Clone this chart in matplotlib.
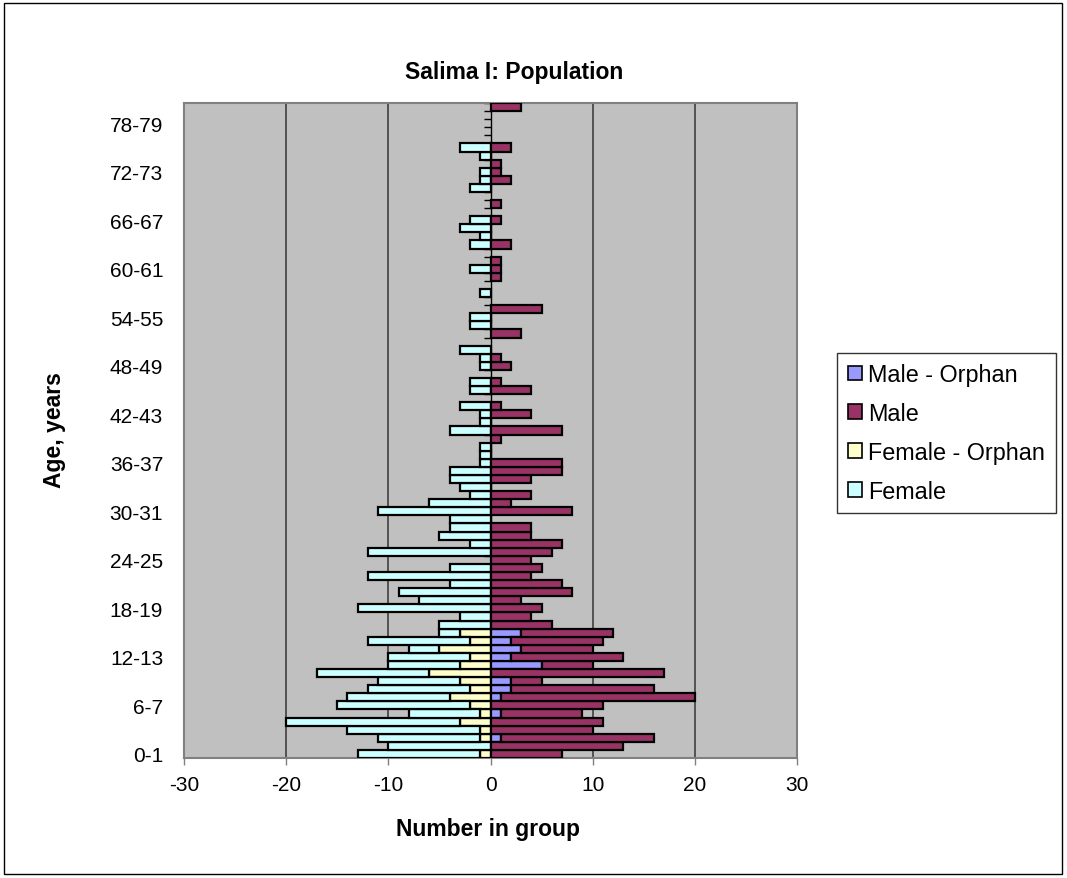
import numpy as np
import matplotlib
matplotlib.use("Agg")
import matplotlib.pyplot as plt
from matplotlib.patches import Patch, Rectangle

plt.rcParams["font.family"] = ["Liberation Sans", "DejaVu Sans"]

# age groups, bottom (0-1) to top (80-81)
ages = [f"{a}-{a + 1}" for a in range(81)]

female = [12, 10, 10, 13, 17, 7, 13, 10, 10, 8,
          11, 7, 8, 3, 10, 2, 5, 3, 13, 7,
          9, 4, 12, 4, 0, 12, 2, 5, 4, 4,
          11, 6, 2, 3, 4, 4, 1, 1, 1, 0,
          4, 1, 1, 3, 0, 2, 2, 0, 1, 1,
          3, 0, 0, 2, 2, 0, 0, 1, 0, 0,
          2, 0, 0, 2, 1, 3, 2, 0, 0, 0,
          2, 1, 1, 0, 1, 3, 0, 0, 0, 0,
          0]
female_orphan = [1, 0, 1, 1, 3, 1, 2, 4, 2, 3,
                 6, 3, 2, 5, 2, 3] + [0] * 65
male = [7, 13, 15, 10, 11, 8, 11, 19, 14, 3,
        17, 5, 11, 7, 9, 9, 6, 4, 5, 3,
        8, 7, 4, 5, 4, 6, 7, 4, 4, 0,
        8, 2, 4, 0, 4, 7, 7, 0, 0, 1,
        7, 0, 4, 1, 0, 4, 1, 0, 2, 1,
        0, 0, 3, 0, 0, 5, 0, 0, 0, 1,
        1, 1, 0, 2, 0, 0, 1, 0, 1, 0,
        0, 2, 1, 1, 0, 2, 0, 0, 0, 0,
        3]
male_orphan = [0, 0, 1, 0, 0, 1, 0, 1, 2, 2,
               0, 5, 2, 3, 2, 3] + [0] * 65

x_ticks = [-30, -20, -10, 0, 10, 20, 30]

c_female = "#CCFFFF"
c_female_orphan = "#FFFFCC"
c_male = "#993366"
c_male_orphan = "#9999FF"

fig = plt.figure(figsize=(10.67, 8.79), dpi=100)
ax = fig.add_axes([184 / 1067, 1 - 759 / 879, 613 / 1067, 655 / 879])
ax.set_facecolor("#C0C0C0")

y = np.arange(len(ages))
f = np.array(female)
fo = np.array(female_orphan)
m = np.array(male)
mo = np.array(male_orphan)


def draw(width, left, color):
    keep = width != 0
    ax.barh(y[keep], width[keep], left=left[keep], height=1.0,
            color=color, edgecolor="black", linewidth=1.6, zorder=3)


# orphans sit next to the axis, the rest stacks outward
draw(-fo, np.zeros(len(y)), c_female_orphan)
draw(-f, -fo, c_female)
draw(mo, np.zeros(len(y)), c_male_orphan)
draw(m, mo, c_male)

ax.set_xlim(-30, 30)
ax.set_ylim(-0.5, len(ages) - 0.5)
ax.set_xticks(x_ticks)
ax.set_xticklabels([str(v) for v in x_ticks], fontsize=15)
ax.tick_params(axis="x", direction="out", length=5, width=1, color="#808080", pad=7)
ax.set_yticks(y[::6])
ax.set_yticklabels(ages[::6], fontsize=15)
ax.tick_params(axis="y", length=0, pad=15)

# vertical gridlines and the zero axis with its category tick marks
for v in x_ticks[1:-1]:
    if v != 0:
        ax.axvline(v, color="#404040", linewidth=1.2, zorder=1)
ax.axvline(0, color="black", linewidth=1, zorder=2)
ax.hlines(np.arange(len(ages) + 1) - 0.5, -0.6, 0, color="black", linewidth=1, zorder=2)

for s in ax.spines.values():
    s.set_color("#808080")
    s.set_linewidth(1.5)

fig.text(514 / 1067, 1 - 73 / 879, "Salima I: Population", ha="center", va="center",
         fontsize=16.5, fontweight="bold")
fig.text(488 / 1067, 1 - 830 / 879, "Number in group", ha="center", va="center",
         fontsize=16.5, fontweight="bold")
fig.text(55 / 1067, 1 - 430 / 879, "Age, years", ha="center", va="center",
         rotation=90, fontsize=16.5, fontweight="bold")

handles = [Patch(facecolor=c, edgecolor="black", linewidth=1.2)
           for c in [c_male_orphan, c_male, c_female_orphan, c_female]]
labels = ["Male - Orphan", "Male", "Female - Orphan", "Female"]
leg = fig.legend(handles, labels, loc="center left",
                 bbox_to_anchor=(837 / 1067, 1 - 434 / 879), fontsize=16.8,
                 frameon=True, fancybox=False, edgecolor="black",
                 handlelength=0.6, handleheight=0.6, handletextpad=0.3,
                 labelspacing=0.68, borderpad=0.45, borderaxespad=0)
leg.get_frame().set_linewidth(1)

fig.patches.append(Rectangle((4 / 1067, 4 / 879), 1058 / 1067, 871 / 879,
                             transform=fig.transFigure, fill=False,
                             edgecolor="black", linewidth=1))

fig.savefig("out.png", dpi=100)
